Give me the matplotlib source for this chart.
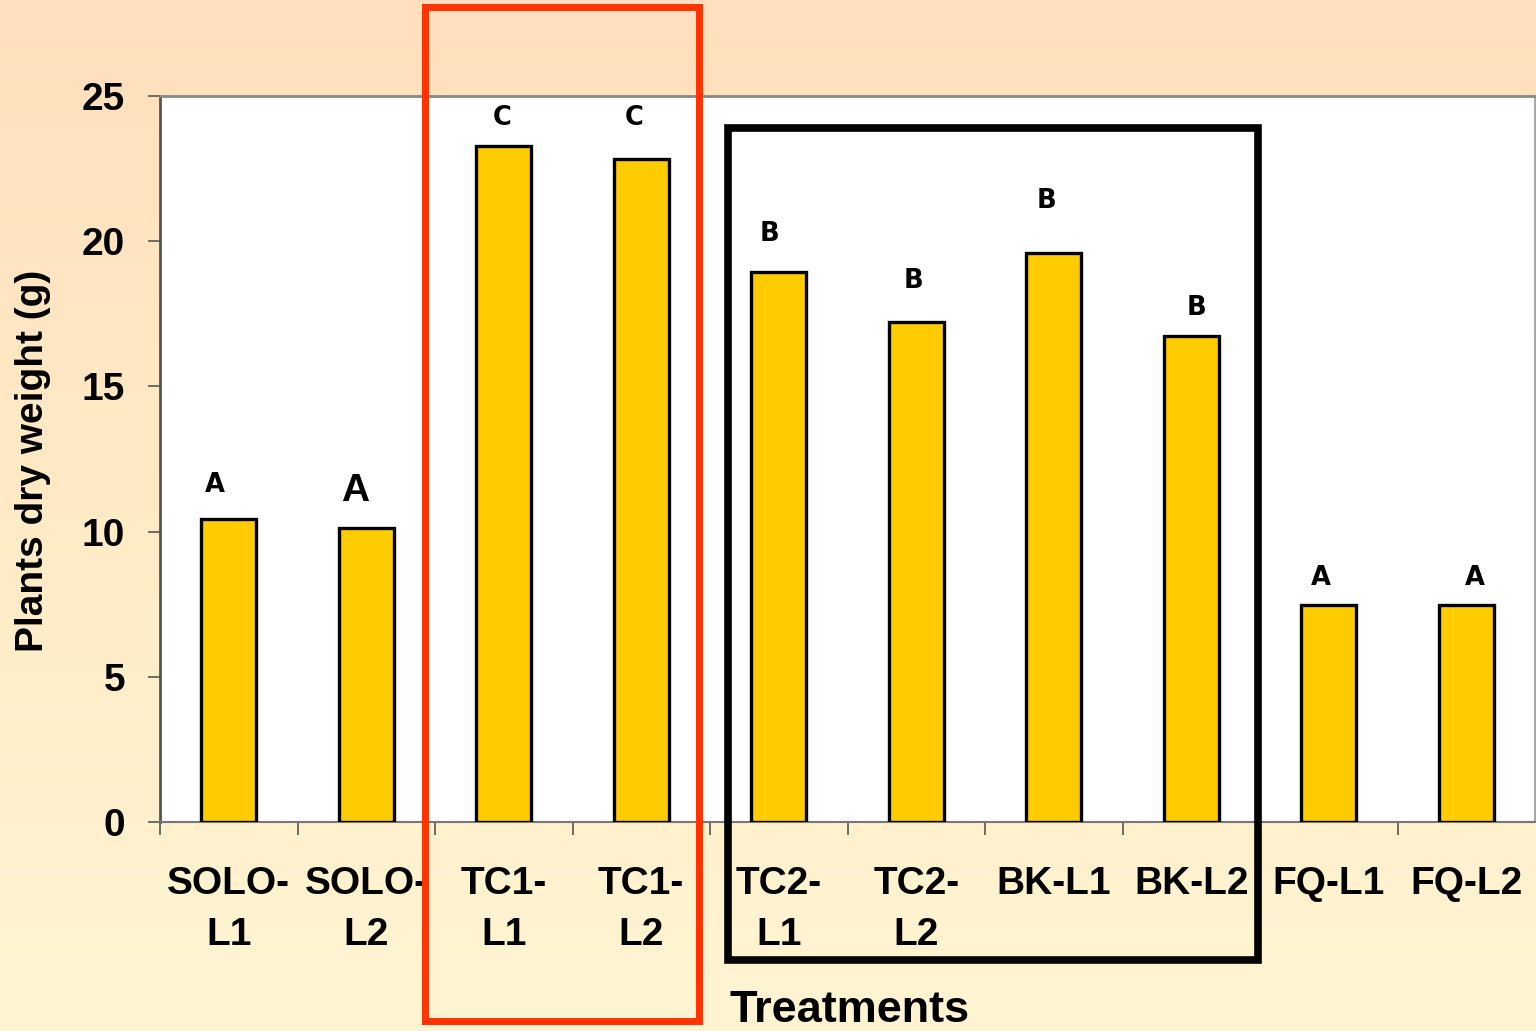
import numpy as np
import matplotlib
matplotlib.use("Agg")
import matplotlib.pyplot as plt
from matplotlib.patches import Rectangle
from matplotlib.colors import LinearSegmentedColormap

# Treatment means (plant dry weight, g)
treatments = ["SOLO-\nL1", "SOLO-\nL2", "TC1-\nL1", "TC1-\nL2", "TC2-\nL1",
              "TC2-\nL2", "BK-L1", "BK-L2", "FQ-L1", "FQ-L2"]
dry_weight = [10.43, 10.12, 23.28, 22.83, 18.94, 17.22, 19.59, 16.74, 7.47, 7.47]
# Significance groups, with the height and sideways nudge of each letter
groups = ["A", "A", "C", "C", "B", "B", "B", "B", "A", "A"]
group_y = [11.6, 11.4, 24.24, 24.24, 20.25, 18.63, 21.38, 17.7, 8.4, 8.4]
group_dx = [-0.1, -0.08, -0.01, -0.05, -0.065, -0.02, -0.05, 0.04, -0.06, 0.06]
y_ticks = [0, 5, 10, 15, 20, 25]

W, H = 1536, 1031
fig = plt.figure(figsize=(W / 100, H / 100), dpi=100)

# Warm vertical gradient behind everything
bg = fig.add_axes([0, 0, 1, 1], zorder=-10)
grad = np.linspace(0, 1, 256).reshape(-1, 1)
cmap = LinearSegmentedColormap.from_list("warm", ["#FFDFBD", "#FFEBC6", "#FFF5D3"])
bg.imshow(grad, aspect="auto", cmap=cmap, extent=[0, 1, 0, 1], origin="upper")
bg.axis("off")

def fx(px):
    return px / W

def fy(py):
    return 1 - py / H

ax = fig.add_axes([fx(160), fy(822), fx(1535) - fx(160), fy(96) - fy(822)])
ax.set_facecolor("white")

x = np.arange(len(treatments))
ax.bar(x, dry_weight, width=0.4, color="#FFCC00", edgecolor="black", linewidth=2.4, zorder=3)

ax.set_xlim(-0.5, len(treatments) - 0.5)
ax.set_ylim(0, 25)

bold_sans = dict(family="Liberation Sans", weight="bold")
ax.set_yticks(y_ticks)
ax.set_yticklabels([str(v) for v in y_ticks], fontsize=28, **bold_sans)
ax.set_xticks(x)
ax.set_xticklabels(treatments, fontsize=28, linespacing=1.52, **bold_sans)
ax.set_xticks(np.arange(len(treatments)) - 0.5, minor=True)
ax.tick_params(axis="x", which="major", length=0, pad=32)
ax.tick_params(axis="x", which="minor", length=9, width=1.2, color="#555555", direction="out")
ax.tick_params(axis="y", length=9, width=1.2, color="#555555", pad=16)

for side, col, lw in [("left", "#555555", 2.0), ("bottom", "#777777", 1.5),
                      ("top", "#888888", 2.0), ("right", "#999999", 1.2)]:
    ax.spines[side].set_color(col)
    ax.spines[side].set_linewidth(lw)

for i, (g, gy, dx) in enumerate(zip(groups, group_y, group_dx)):
    if i == 1:
        ax.text(i + dx, gy, g, ha="center", va="center", fontsize=28,
                family="Liberation Sans", weight="bold", zorder=4)
    else:
        ax.text(i + dx, gy, g, ha="center", va="center", fontsize=18.5,
                family="DejaVu Sans", weight="bold", zorder=4)

fig.text(fx(33), fy(461), "Plants dry weight (g)", rotation=90, ha="center", va="center",
         fontsize=28, **bold_sans)
fig.text(fx(730), fy(1011), "Treatments", ha="left", va="center", fontsize=32.5, **bold_sans)

# Highlight boxes around treatment groups
fig.patches.append(Rectangle((fx(425), fy(1021)), fx(699) - fx(425), fy(7) - fy(1021),
                             transform=fig.transFigure, fill=False, edgecolor="#FF3300",
                             linewidth=5, zorder=20))
fig.patches.append(Rectangle((fx(728), fy(960)), fx(1258) - fx(728), fy(128) - fy(960),
                             transform=fig.transFigure, fill=False, edgecolor="black",
                             linewidth=5.5, zorder=20))

fig.savefig("out.png", dpi=100)
